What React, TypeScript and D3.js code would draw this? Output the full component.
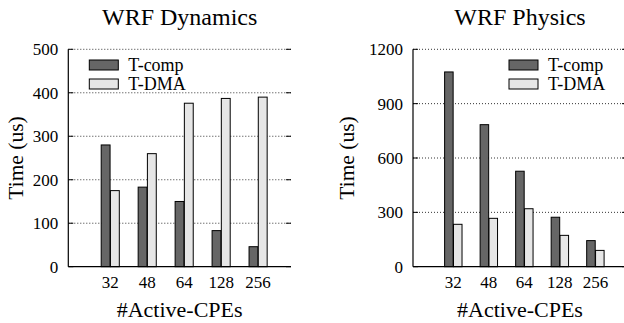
import React, { useEffect } from 'react'
import * as d3 from 'd3'

const categories = ['32', '48', '64', '128', '256']
const seriesNames = ['T-comp', 'T-DMA']

const dynComp = [280, 183, 150, 83, 46]
const dynDma = [175, 260, 376, 387, 390]
const dynTicks = [0, 100, 200, 300, 400, 500]

const phyComp = [1075, 784, 527, 273, 144]
const phyDma = [234, 267, 320, 173, 90]
const phyTicks = [0, 300, 600, 900, 1200]

const DARK = '#666666'
const LIGHT = '#e6e6e6'

const Panel = ({ title, comp, dma, ticks, left, right, labelX, legendX }) => {
  const top = 49.3
  const bottom = 266.7
  const y = d3.scaleLinear().domain([0, ticks[ticks.length - 1]]).range([bottom, top])
  const x = d3.scaleLinear().domain([-1.135, 4.89]).range([left, right])
  const bw = 0.24
  const mid = (left + right) / 2
  const step = 19

  return (
    <g>
      <text x={mid} y={25} textAnchor="middle" fontSize={24}>{title}</text>

      {/* grid + ticks */}
      {ticks.map(t => (
        <g key={t}>
          {t > 0 && (
            <line x1={left} x2={right} y1={y(t)} y2={y(t)} stroke="#000" strokeWidth={0.8}
              strokeDasharray="1,2" />
          )}
          <line x1={left} x2={left + 5} y1={y(t)} y2={y(t)} stroke="#000" strokeWidth={1} />
          <line x1={right - 5} x2={right} y1={y(t)} y2={y(t)} stroke="#000" strokeWidth={1} />
          <text x={left - 10} y={y(t)} dy="0.35em" textAnchor="end" fontSize={17}>{t}</text>
        </g>
      ))}

      {/* bars */}
      {categories.map((c, i) => (
        <g key={c}>
          <rect x={x(i - bw - 0.005)} width={x(bw) - x(0)} y={y(comp[i])} height={bottom - y(comp[i])}
            fill={DARK} stroke="#000" strokeWidth={1} />
          <rect x={x(i + 0.005)} width={x(bw) - x(0)} y={y(dma[i])} height={bottom - y(dma[i])}
            fill={LIGHT} stroke="#000" strokeWidth={1} />
          <text x={x(i)} y={288} textAnchor="middle" fontSize={17}>{c}</text>
        </g>
      ))}

      {/* axes */}
      <line x1={left} x2={left} y1={top} y2={bottom} stroke="#000" strokeWidth={1.2} />
      <line x1={left} x2={right} y1={bottom} y2={bottom} stroke="#000" strokeWidth={1.2} />

      <text x={mid} y={316.5} textAnchor="middle" fontSize={22}>#Active-CPEs</text>
      <text transform={`translate(${labelX},158) rotate(-90)`} textAnchor="middle" fontSize={21.5}>Time (us)</text>

      {/* legend */}
      {seriesNames.map((s, i) => (
        <g key={s}>
          <rect x={legendX} y={60 + i * step} width={29} height={10} fill={i === 0 ? DARK : LIGHT}
            stroke="#000" strokeWidth={1} />
          <text x={legendX + 39} y={71.3 + i * step} fontSize={18}>{s}</text>
        </g>
      ))}
    </g>
  )
}

export default function App() {
  useEffect(() => {
    document.body.style.margin = '0'
  }, [])
  return (
    <svg width={624} height={323}
      style={{ display: 'block', background: '#fff', fontFamily: "'Liberation Serif', serif" }}>
      <Panel title="WRF Dynamics" comp={dynComp} dma={dynDma} ticks={dynTicks}
        left={68.3} right={291} labelX={23} legendX={89.3} />
      <Panel title="WRF Physics" comp={phyComp} dma={phyDma} ticks={phyTicks}
        left={413} right={627} labelX={353.7} legendX={509} />
    </svg>
  )
}
